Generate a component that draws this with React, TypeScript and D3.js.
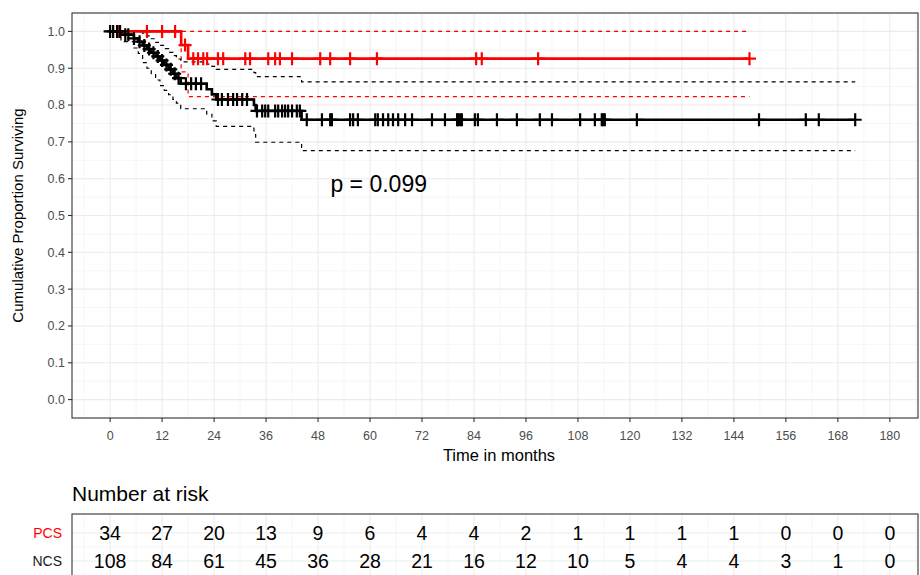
import React from 'react';
import * as d3 from 'd3';

// number at risk table
const riskTimes = [0, 12, 24, 36, 48, 60, 72, 84, 96, 108, 120, 132, 144, 156, 168, 180];
const pcsRisk = [34, 27, 20, 13, 9, 6, 4, 4, 2, 1, 1, 1, 1, 0, 0, 0];
const ncsRisk = [108, 84, 61, 45, 36, 28, 21, 16, 12, 10, 5, 4, 4, 3, 1, 0];

// PCS (red) curve
const pcsEventTimes = [16.4, 18.0];
const pcsSurv = [0.963, 0.926];
const pcsUpper = [1.0, 1.0];
const pcsLower = [0.89, 0.823];
const pcsEnd = 147.6;
const pcsCensor = [1.8, 8.5, 12, 15, 17.3, 19.2, 20.3, 21.5, 22.4, 24.9, 26.1, 31.2, 32.3, 36.5, 38.1,
  39.2, 42, 48.5, 50.8, 55.4, 61.6, 84.5, 85.8, 98.8, 147.6];

// NCS (black) curve
const ncsEventTimes = [2.5, 5.5, 6.5, 7.5, 8.5, 9.5, 10.5, 11.5, 12.5, 13.5, 14.5, 15.3, 16.3, 22.3,
  23.5, 24.5, 33.2, 33.6, 44.2];
const ncsSurv = [0.991, 0.981, 0.972, 0.962, 0.952, 0.942, 0.932, 0.921, 0.909, 0.897, 0.885, 0.873,
  0.858, 0.843, 0.829, 0.815, 0.8, 0.784, 0.76];
const ncsUpper = [1.0, 1.0, 1.0, 0.995, 0.988, 0.98, 0.97, 0.962, 0.953, 0.943, 0.934, 0.925, 0.917,
  0.911, 0.905, 0.897, 0.888, 0.877, 0.863];
const ncsLower = [0.972, 0.955, 0.94, 0.915, 0.9, 0.885, 0.868, 0.853, 0.84, 0.828, 0.815, 0.805, 0.79,
  0.775, 0.757, 0.742, 0.72, 0.699, 0.676];
const ncsEnd = 172;
const ncsCensor = [0, 0.7, 1.6, 2.3, 3.5, 4.2, 5.5, 6.8, 7.9, 9, 10, 11, 12, 13, 14, 14.9, 15.8, 17.5,
  18.7, 19.8, 21, 24.9, 25.8, 27.2, 28.4, 29.3, 30.5, 31.6, 33.9, 35.1, 35.8, 36.5, 38.1, 38.8, 39.7,
  40.4, 41.1, 42, 43.1, 43.8, 45.4, 48.9, 50.8, 51.2, 55.4, 56.1, 57.2, 61.2, 61.8, 63, 64.2, 65.3,
  66.5, 68.1, 69.7, 74.3, 77.3, 80.1, 80.3, 80.8, 81.2, 84.2, 84.9, 89.3, 93.9, 99.2, 102, 108.5,
  111.9, 113.5, 113.8, 114.2, 121.6, 149.8, 160.6, 163.6, 172];

const yTicks = [0, 0.1, 0.2, 0.3, 0.4, 0.5, 0.6, 0.7, 0.8, 0.9, 1.0];
const xTicks = riskTimes;

const font = 'Liberation Sans, Arial, sans-serif';

const panel = { left: 72, right: 918, top: 13, bottom: 418 };
const table = { top: 514, bottom: 600 };

export default function App() {
  const x = d3.scaleLinear().domain([-8.8, 186.5]).range([panel.left, panel.right]);
  const y = d3.scaleLinear().domain([-0.05, 1.05]).range([panel.bottom, panel.top]);

  const stepLine = d3.line<[number, number]>()
    .x(d => x(d[0]))
    .y(d => y(d[1]))
    .curve(d3.curveStepAfter);

  const steps = (times: number[], vals: number[], end: number): [number, number][] => {
    const pts: [number, number][] = [[0, 1]];
    times.forEach((t, i) => pts.push([t, vals[i]]));
    pts.push([end, vals[vals.length - 1]]);
    return pts;
  };

  const survAt = (times: number[], vals: number[], t: number) => {
    const i = d3.bisectRight(times, t);
    return i === 0 ? 1 : vals[i - 1];
  };

  const majorX = d3.range(0, 181, 12);
  const minorX = d3.range(-6, 187, 12);
  const majorY = yTicks;
  const minorY = d3.range(-0.05, 1.06, 0.1);

  const plus = 'M-6.5,0H6.5M0,-6.5V6.5';

  const curves = [
    { color: '#ff0000', times: pcsEventTimes, surv: pcsSurv, up: pcsUpper, lo: pcsLower, end: pcsEnd, cens: pcsCensor },
    { color: '#000000', times: ncsEventTimes, surv: ncsSurv, up: ncsUpper, lo: ncsLower, end: ncsEnd, cens: ncsCensor },
  ];

  const rowY = [533, 561];

  return (
    <svg width={920} height={575} style={{ position: 'absolute', left: 0, top: 0, background: '#fff' }}
      fontFamily={font}>
      <rect x={0} y={0} width={920} height={575} fill="#fff" />

      {/* main panel grid */}
      <g>
        {minorX.map(v => (
          <line key={'mx' + v} x1={x(v)} x2={x(v)} y1={panel.top} y2={panel.bottom} stroke="#f4f4f4" strokeWidth={0.8} />
        ))}
        {minorY.map(v => (
          <line key={'my' + v} x1={panel.left} x2={panel.right} y1={y(v)} y2={y(v)} stroke="#f4f4f4" strokeWidth={0.8} />
        ))}
        {majorX.map(v => (
          <line key={'Mx' + v} x1={x(v)} x2={x(v)} y1={panel.top} y2={panel.bottom} stroke="#ebebeb" strokeWidth={1.1} />
        ))}
        {majorY.map(v => (
          <line key={'My' + v} x1={panel.left} x2={panel.right} y1={y(v)} y2={y(v)} stroke="#ebebeb" strokeWidth={1.1} />
        ))}
      </g>

      {/* confidence bands */}
      {curves.map((c, i) => (
        <g key={'ci' + i} fill="none" stroke={c.color} strokeWidth={1.2} strokeDasharray="4,4">
          <path d={stepLine(steps(c.times, c.up, c.end)) || ''} />
          <path d={stepLine(steps(c.times, c.lo, c.end)) || ''} />
        </g>
      ))}

      {/* survival curves */}
      {curves.map((c, i) => (
        <g key={'kc' + i}>
          <path d={stepLine(steps(c.times, c.surv, c.end)) || ''} fill="none" stroke={c.color} strokeWidth={2.6} />
          {c.cens.map((t, j) => (
            <path key={j} d={plus} transform={`translate(${x(t)},${y(survAt(c.times, c.surv, t))})`}
              stroke={c.color} strokeWidth={2.2} fill="none" />
          ))}
        </g>
      ))}

      <text x={x(62)} y={y(0.585)} fontSize={23} textAnchor="middle" dominantBaseline="central" fill="#000">
        p = 0.099
      </text>

      <rect x={panel.left} y={panel.top} width={panel.right - panel.left} height={panel.bottom - panel.top}
        fill="none" stroke="#333" strokeWidth={1.1} />

      {/* y axis */}
      {yTicks.map(v => (
        <g key={'yt' + v}>
          <line x1={panel.left - 4} x2={panel.left} y1={y(v)} y2={y(v)} stroke="#333" strokeWidth={1.1} />
          <text x={panel.left - 7} y={y(v)} dy="0.35em" textAnchor="end" fontSize={12.5} fill="#4d4d4d">
            {v.toFixed(1)}
          </text>
        </g>
      ))}
      <text transform={`translate(23,${(panel.top + panel.bottom) / 2}) rotate(-90)`} textAnchor="middle"
        fontSize={15} fill="#000">Cumulative Proportion Surviving</text>

      {/* x axis */}
      {xTicks.map(v => (
        <g key={'xt' + v}>
          <line x1={x(v)} x2={x(v)} y1={panel.bottom} y2={panel.bottom + 4} stroke="#333" strokeWidth={1.1} />
          <text x={x(v)} y={panel.bottom + 18} dy="0.35em" textAnchor="middle" fontSize={12.5} fill="#4d4d4d">
            {v}
          </text>
        </g>
      ))}
      <text x={(panel.left + panel.right) / 2 + 4} y={461} textAnchor="middle" fontSize={16.5} fill="#000">
        Time in months
      </text>

      {/* risk table */}
      <text x={panel.left} y={501} fontSize={21} fill="#000">Number at risk</text>
      <g>
        {minorX.map(v => (
          <line key={'tmx' + v} x1={x(v)} x2={x(v)} y1={table.top} y2={table.bottom} stroke="#f4f4f4" strokeWidth={0.8} />
        ))}
        {majorX.map(v => (
          <line key={'tMx' + v} x1={x(v)} x2={x(v)} y1={table.top} y2={table.bottom} stroke="#ebebeb" strokeWidth={1.1} />
        ))}
        <line x1={panel.left} x2={panel.right} y1={547} y2={547} stroke="#f4f4f4" strokeWidth={0.8} />
        {rowY.map(v => (
          <line key={'tr' + v} x1={panel.left} x2={panel.right} y1={v} y2={v} stroke="#ebebeb" strokeWidth={1.1} />
        ))}
      </g>
      {[pcsRisk, ncsRisk].map((row, r) => (
        <g key={'row' + r}>
          {row.map((n, k) => (
            <text key={k} x={x(riskTimes[k])} y={rowY[r]} dy="0.36em" textAnchor="middle" fontSize={19.5} fill="#000">
              {n}
            </text>
          ))}
        </g>
      ))}
      <text x={62} y={rowY[0]} dy="0.36em" textAnchor="end" fontSize={14} fill="#ff0000">PCS</text>
      <text x={62} y={rowY[1]} dy="0.36em" textAnchor="end" fontSize={14} fill="#1a1a1a">NCS</text>
      <rect x={panel.left} y={table.top} width={panel.right - panel.left} height={table.bottom - table.top}
        fill="none" stroke="#333" strokeWidth={1.1} />
    </svg>
  );
}
